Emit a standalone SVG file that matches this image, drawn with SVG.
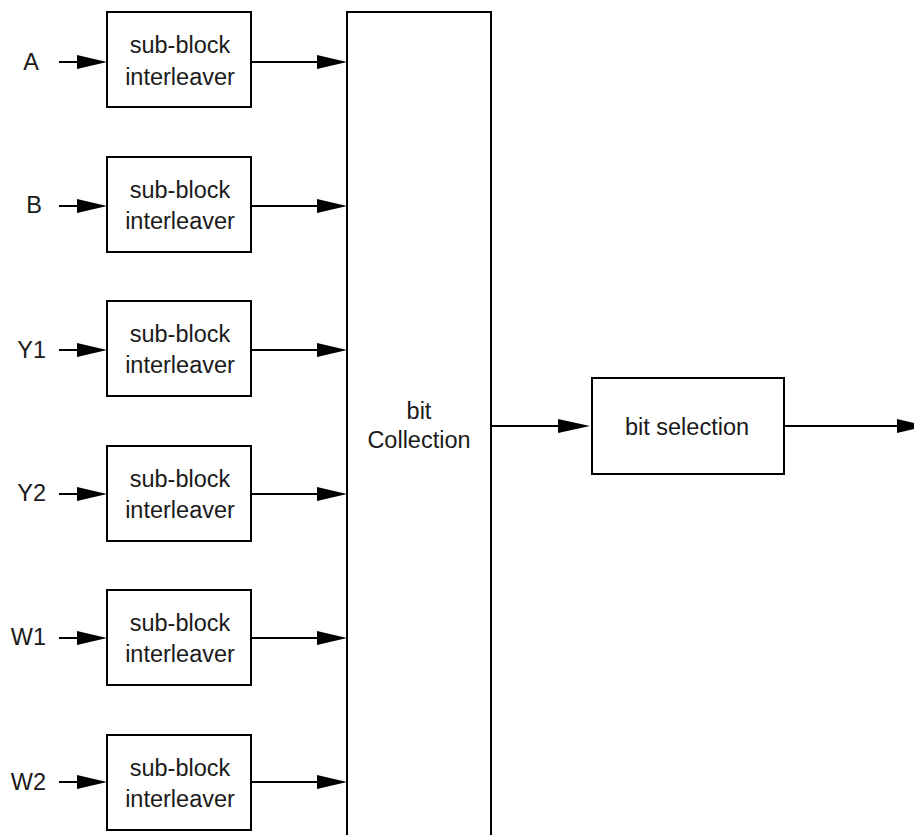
<svg xmlns="http://www.w3.org/2000/svg" width="914" height="835" viewBox="0 0 914 835">
<style>
.box{fill:#fff;stroke:#000;stroke-width:2}
.ln{stroke:#000;stroke-width:2;fill:none}
.ah{fill:#000}
text{font-family:"Liberation Sans",Arial,sans-serif;font-size:23.5px;fill:#1a1a1a}
.c{text-anchor:middle}
.e{text-anchor:end}
</style>
<g id="collection"><rect class="box" x="347" y="12" width="144" height="840"/><text class="c" x="419" y="419">bit</text><text class="c" x="419" y="448">Collection</text></g>
<g id="blk-A"><rect class="box" x="107" y="12" width="144" height="95"/><text class="c" x="180" y="53">sub-block</text><text class="c" x="180" y="85">interleaver</text></g>
<g id="blk-B"><rect class="box" x="107" y="157" width="144" height="95"/><text class="c" x="180" y="198">sub-block</text><text class="c" x="180" y="229">interleaver</text></g>
<g id="blk-Y1"><rect class="box" x="107" y="301" width="144" height="95"/><text class="c" x="180" y="342">sub-block</text><text class="c" x="180" y="373">interleaver</text></g>
<g id="blk-Y2"><rect class="box" x="107" y="446" width="144" height="95"/><text class="c" x="180" y="487">sub-block</text><text class="c" x="180" y="518">interleaver</text></g>
<g id="blk-W1"><rect class="box" x="107" y="590" width="144" height="95"/><text class="c" x="180" y="631">sub-block</text><text class="c" x="180" y="662">interleaver</text></g>
<g id="blk-W2"><rect class="box" x="107" y="735" width="144" height="95"/><text class="c" x="180" y="776">sub-block</text><text class="c" x="180" y="807">interleaver</text></g>
<g id="sel"><rect class="box" x="592" y="378" width="192" height="96"/><text class="c" x="687" y="435">bit selection</text></g>
<g id="labels">
<text class="e" x="39" y="70">A</text>
<text class="e" x="42" y="213">B</text>
<text class="e" x="46" y="358">Y1</text>
<text class="e" x="46" y="501">Y2</text>
<text class="e" x="46" y="645">W1</text>
<text class="e" x="46" y="790">W2</text>
</g>
<g id="connectors">
<path class="ln" d="M59 62H80M251 62H318M59 206H80M251 206H318M59 350H80M251 350H318M59 494H80M251 494H318M59 638H80M251 638H318M59 782H80M251 782H318M491 426H560M784 426H900"/>
<path class="ah" d="M77 55L107 62L77 69ZM317 55L347 62L317 69ZM77 199L107 206L77 213ZM317 199L347 206L317 213ZM77 343L107 350L77 357ZM317 343L347 350L317 357ZM77 487L107 494L77 501ZM317 487L347 494L317 501ZM77 631L107 638L77 645ZM317 631L347 638L317 645ZM77 775L107 782L77 789ZM317 775L347 782L317 789ZM558 419L590 426L558 433ZM897 419L927 426L897 433Z"/>
</g>
</svg>
